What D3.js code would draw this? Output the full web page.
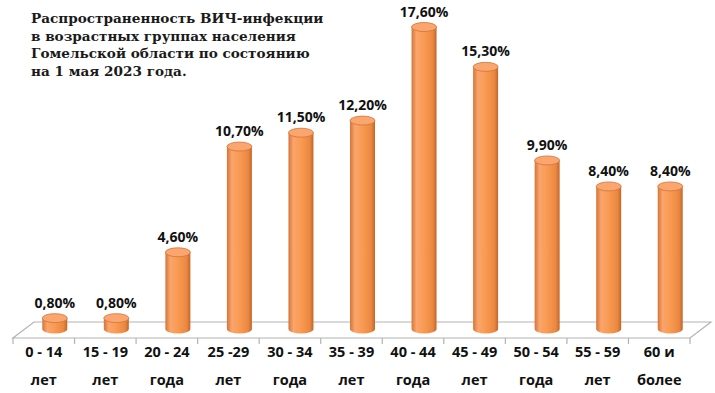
<!DOCTYPE html>
<html>
<head>
<meta charset="utf-8">
<script src="https://cdn.jsdelivr.net/npm/d3@7"></script>
<style>
  body { margin: 0; background: #fff; }
  svg { display: block; }
</style>
</head>
<body>
<svg id="chart" width="715" height="393"></svg>
<script>
// age groups, two lines of label each
const ageGroups = ["0 - 14", "15  - 19", "20 - 24", "25 -29", "30 - 34", "35 - 39", "40 - 44", "45 - 49", "50 - 54", "55 - 59", "60 и"]
const ageUnits = ["лет", "лет", "года", "лет", "года", "лет", "года", "лет", "года", "лет", "более"]
const prevalence = [0.8, 0.8, 4.6, 10.7, 11.5, 12.2, 17.6, 15.3, 9.9, 8.4, 8.4]
const valueLabels = ["0,80%", "0,80%", "4,60%", "10,70%", "11,50%", "12,20%", "17,60%", "15,30%", "9,90%", "8,40%", "8,40%"]
const titleLines = [
    "Распространенность ВИЧ-инфекции",
    "в возрастных группах населения",
    "Гомельской области по состоянию",
    "на 1 мая 2023 года."
]

const svg = d3.select("#chart")

// floor front edge and the 3d depth shift
const front = { left: 13, right: 690, y: 338 }
const depth = { dx: 21, dy: -16 }

const x = d3.scaleBand()
    .domain(d3.range(ageGroups.length))
    .range([front.left, front.right])
    .padding(0)

const y = d3.scaleLinear()
    .domain([0, 17.6])
    .range([332, 27])

const defs = svg.append("defs")
const grad = defs.append("linearGradient")
    .attr("id", "cyl")
    .attr("x1", "0%").attr("x2", "100%")
    .attr("y1", "0%").attr("y2", "0%")
grad.append("stop").attr("offset", "0%").attr("stop-color", "#d4753a")
grad.append("stop").attr("offset", "20%").attr("stop-color", "#faa56c")
grad.append("stop").attr("offset", "50%").attr("stop-color", "#f99a52")
grad.append("stop").attr("offset", "85%").attr("stop-color", "#ea8842")
grad.append("stop").attr("offset", "100%").attr("stop-color", "#c2662a")

// floor
const floorPts = [
    [front.left, front.y],
    [front.right, front.y],
    [front.right + depth.dx, front.y + depth.dy],
    [front.left + depth.dx, front.y + depth.dy]
]
svg.append("polygon")
    .attr("points", floorPts.map(p => p.join(",")).join(" "))
    .attr("fill", "#fff")
    .attr("stroke", "#b3b3b3")
    .attr("stroke-width", 1.2)

// ticks below front edge
svg.append("g")
    .selectAll("line")
    .data(d3.range(ageGroups.length + 1))
    .enter().append("line")
    .attr("x1", i => front.left + i * x.bandwidth())
    .attr("x2", i => front.left + i * x.bandwidth())
    .attr("y1", front.y)
    .attr("y2", front.y + 6)
    .attr("stroke", "#b3b3b3")
    .attr("stroke-width", 1.2)

// cylinders
const rx = 12.5, ry = 4.5
const cx = i => x(i) + x.bandwidth() / 2 + 11
const bars = svg.append("g")
    .selectAll("g")
    .data(prevalence)
    .enter().append("g")

bars.append("path")
    .attr("d", (d, i) => {
        const c = cx(i), top = y(d), bot = y(0) - 3
        return `M${c - rx},${top} L${c - rx},${bot} A${rx},${ry} 0 0 0 ${c + rx},${bot} L${c + rx},${top} Z`
    })
    .attr("fill", "url(#cyl)")

bars.append("ellipse")
    .attr("cx", (d, i) => cx(i))
    .attr("cy", d => y(d))
    .attr("rx", rx)
    .attr("ry", ry)
    .attr("fill", "#faa66e")
    .attr("stroke", "#d0743a")
    .attr("stroke-width", 0.8)

// value labels
svg.append("g")
    .selectAll("text")
    .data(prevalence)
    .enter().append("text")
    .attr("x", (d, i) => cx(i))
    .attr("y", d => y(d) - ry - 6)
    .attr("text-anchor", "middle")
    .style("font-family", "'Open Sans', sans-serif")
    .style("font-weight", "bold")
    .style("font-size", "14px")
    .attr("fill", "#111")
    .text((d, i) => valueLabels[i])

// category labels
const cat = svg.append("g")
    .selectAll("text")
    .data(ageGroups)
    .enter().append("text")
    .attr("text-anchor", "middle")
    .style("font-family", "'Open Sans', sans-serif")
    .style("font-weight", "bold")
    .style("font-size", "14.5px")
    .attr("fill", "#111")
cat.append("tspan")
    .attr("x", (d, i) => x(i) + x.bandwidth() / 2)
    .attr("y", 357)
    .text(d => d)
cat.append("tspan")
    .attr("x", (d, i) => x(i) + x.bandwidth() / 2)
    .attr("y", 385)
    .text((d, i) => ageUnits[i])

// title
svg.append("text")
    .style("font-family", "'DejaVu Serif', serif")
    .style("font-weight", "bold")
    .style("font-size", "13.6px")
    .attr("fill", "#1a1a1a")
    .selectAll("tspan")
    .data(titleLines)
    .enter().append("tspan")
    .attr("x", 31)
    .attr("y", (d, i) => 23 + i * 17.7)
    .text(d => d)
</script>
</body>
</html>
